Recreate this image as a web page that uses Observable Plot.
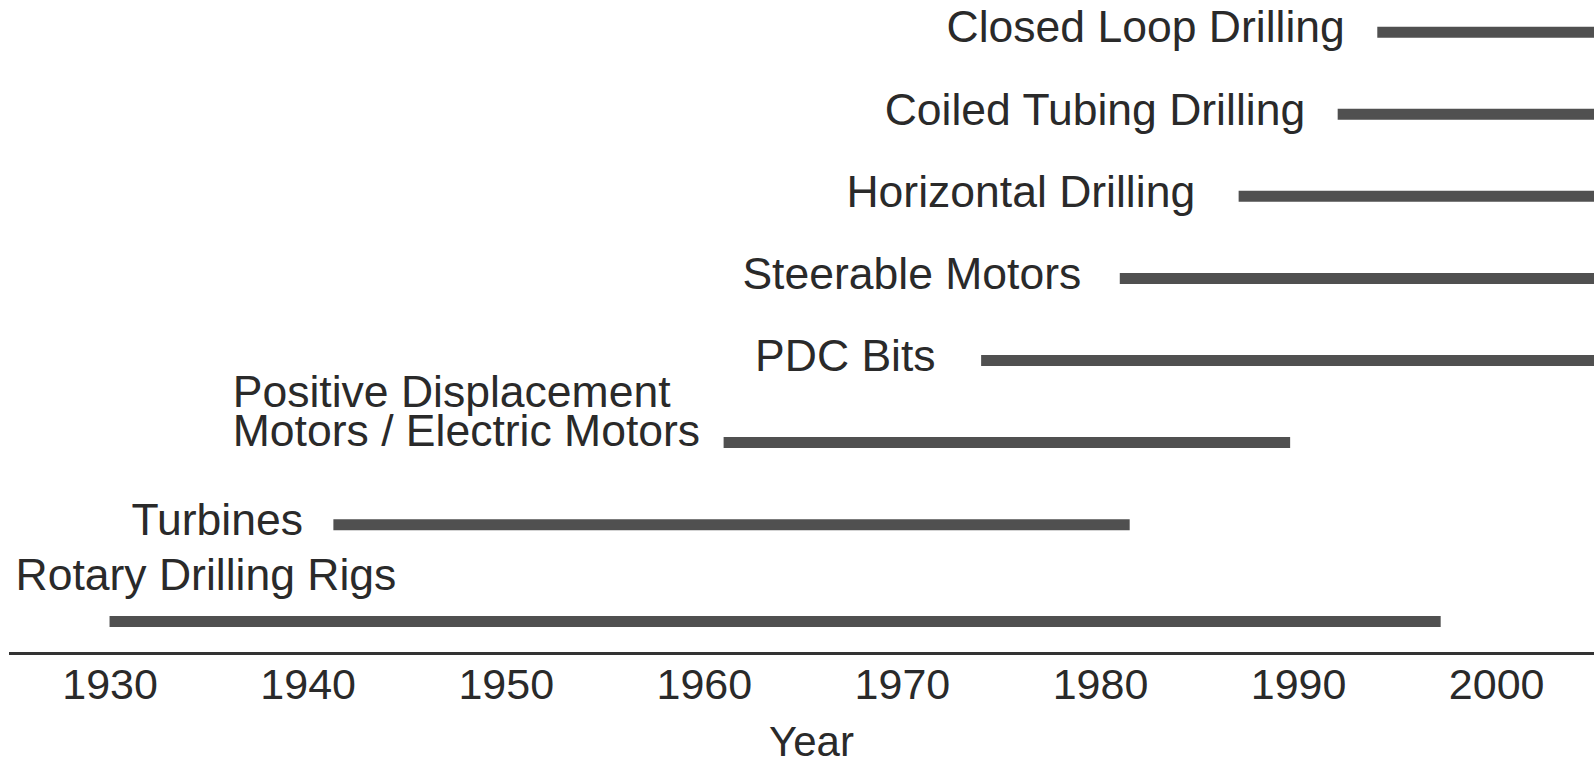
<!DOCTYPE html>
<html>
<head>
<meta charset="utf-8">
<script src="https://cdn.jsdelivr.net/npm/d3@7"></script>
<script src="https://cdn.jsdelivr.net/npm/@observablehq/plot@0.6"></script>
<style>
  html, body { margin: 0; padding: 0; background: #ffffff; }
  #chart svg { display: block; }
</style>
</head>
<body>
<div id="chart"></div>
<script>
// ---- data ----
const technologies = [
  "Closed Loop Drilling",
  "Coiled Tubing Drilling",
  "Horizontal Drilling",
  "Steerable Motors",
  "PDC Bits",
  "Positive Displacement\nMotors / Electric Motors",
  "Turbines",
  "Rotary Drilling Rigs"
];
const startYears = [1994, 1992, 1987, 1981, 1974, 1961, 1941.3, 1930];
const endYears   = [2005, 2005, 2005, 2005, 2005, 1989.6, 1981.5, 1997.2];
const labelPlacement = ["left", "left", "left", "left", "left", "wrap", "left", "above"];
const tickYears = [1930, 1940, 1950, 1960, 1970, 1980, 1990, 2000];
const axisLabel = "Year";

// ---- layout / style ----
const W = 1594, H = 763;
const FONT = "Liberation Sans, Arial, Helvetica, sans-serif";
const FS_LABEL = 44.5;
const FS_TICK = 43;
const textColor = "#2a2a2a";
const barColor = "#505050";
const labelGaps = [33, 33, 44, 39, 46, 24, 31, 0]; // space between a label and its bar (px)

// rows: a label placed above its bar needs extra vertical room
const rows = technologies.map((name, i) => ({
  name,
  start: startYears[i],
  end: endYears[i],
  place: labelPlacement[i],
  gap: labelGaps[i],
  row: i + (labelPlacement[i] === "above" ? 0.18 : 0)
}));

// measure widest line of a wrapped label so its lines are left-aligned
const ctx = document.createElement("canvas").getContext("2d");
ctx.font = `${FS_LABEL}px ${FONT}`;
const widest = s => d3.max(s.split("\n"), l => ctx.measureText(l).width);

const leftRows = rows.filter(d => d.place === "left");
const wrapRows = rows.filter(d => d.place === "wrap");
const aboveRows = rows.filter(d => d.place === "above");

const marks = [
  Plot.frame({ anchor: "bottom", stroke: "#333", strokeWidth: 3, insetLeft: 10 }),
  Plot.axisX(tickYears, {
    anchor: "bottom",
    tickSize: 0,
    tickPadding: 15,
    fontSize: FS_TICK,
    fill: textColor,
    tickFormat: d => `${d}`,
    label: null
  }),
  Plot.ruleY(rows, {
    y: "row", x1: "start", x2: "end",
    stroke: barColor, strokeWidth: 11, clip: true
  })
];

// single-line labels to the left of their bars, each with its own gap
for (const d of leftRows) {
  marks.push(Plot.text([d], {
    y: "row", x: "start", text: "name",
    textAnchor: "end", dx: -d.gap, dy: -4,
    fontSize: FS_LABEL, fill: textColor
  }));
}
// wrapped label: left-aligned lines, ending just before the bar
for (const d of wrapRows) {
  marks.push(Plot.text([d], {
    y: "row", x: "start", text: "name",
    textAnchor: "start", lineAnchor: "bottom", lineHeight: 0.867,
    dx: -(widest(d.name) + d.gap), dy: 3,
    fontSize: FS_LABEL, fill: textColor
  }));
}
// label above its bar, at the left edge
marks.push(Plot.text(aboveRows, {
  y: "row", frameAnchor: "left", text: "name",
  textAnchor: "start", lineAnchor: "bottom",
  dx: 15, dy: -31,
  fontSize: FS_LABEL, fill: textColor
}));
// axis title
marks.push(Plot.text([axisLabel], {
  frameAnchor: "bottom", text: d => d,
  lineAnchor: "bottom", dx: 14, dy: 102,
  fontSize: 42, fill: textColor
}));

const chart = Plot.plot({
  width: W,
  height: H,
  marginLeft: 0,
  marginRight: 0,
  marginTop: 0,
  marginBottom: 110,
  style: { fontFamily: FONT, color: textColor, background: "#ffffff" },
  x: { domain: [1924.47, 2004.94], axis: null },
  y: { domain: [-0.386, 7.57], reverse: true, axis: null },
  marks
});

document.getElementById("chart").appendChild(chart);
</script>
</body>
</html>
